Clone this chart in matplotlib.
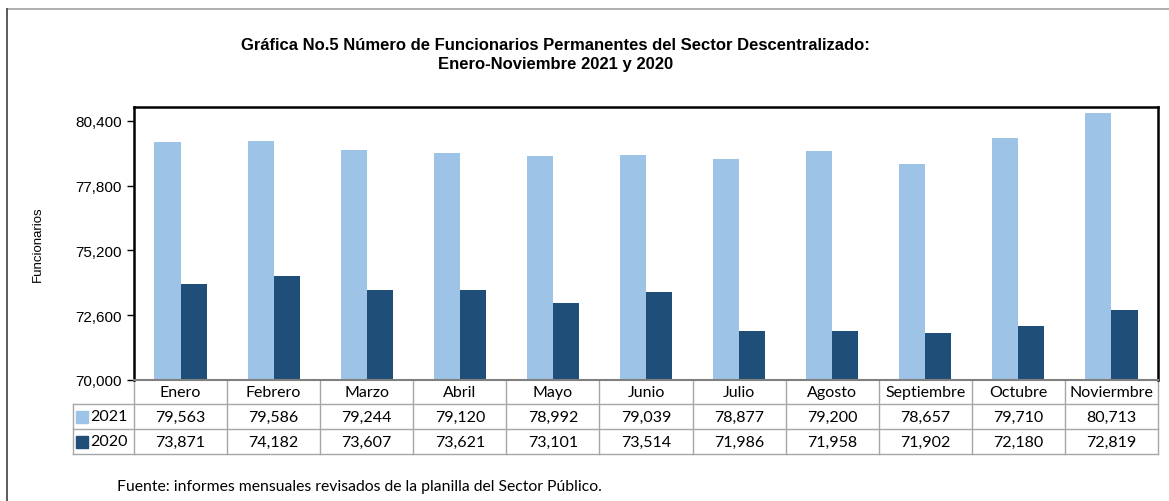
import matplotlib.pyplot as plt
import numpy as np
from matplotlib.lines import Line2D
from matplotlib.transforms import blended_transform_factory

meses = ['Enero', 'Febrero', 'Marzo', 'Abril', 'Mayo', 'Junio', 'Julio',
         'Agosto', 'Septiembre', 'Octubre', 'Noviermbre']
valores_2021 = [79563, 79586, 79244, 79120, 78992, 79039, 78877, 79200, 78657, 79710, 80713]
valores_2020 = [73871, 74182, 73607, 73621, 73101, 73514, 71986, 71958, 71902, 72180, 72819]
series = ['2021', '2020']
yticks = [70000, 72600, 75200, 77800, 80400]

colores = {'2021': '#9DC3E6', '2020': '#1F4E79'}
grid_col = '#A6A6A6'

plt.rcParams['font.family'] = ['Liberation Sans', 'DejaVu Sans']

fig = plt.figure(figsize=(11.69, 5.02), dpi=100)
ax = fig.add_axes([134 / 1169, 1 - 381 / 502, 1024 / 1169, 273 / 502])

x = np.arange(len(meses))
w = 0.28
ax.bar(x - w / 2, valores_2021, width=w, color=colores['2021'], zorder=2)
ax.bar(x + w / 2, valores_2020, width=w, color=colores['2020'], zorder=2)

ax.set_xlim(-0.5, len(meses) - 0.5)
ax.set_ylim(70000, 80960)
ax.set_yticks(yticks)
ax.set_yticklabels([f'{v:,}' for v in yticks], fontsize=11)
ax.set_xticks([])
ax.tick_params(axis='y', length=5, width=1, direction='out', pad=4)

for s in ['left', 'top', 'right']:
    ax.spines[s].set_color('black')
    ax.spines[s].set_linewidth(1.8)
ax.spines['bottom'].set_color('#808080')
ax.spines['bottom'].set_linewidth(1.5)

ax.set_ylabel('Funcionarios', fontsize=9.5, labelpad=22)

# tabla de datos debajo del grafico
tr = blended_transform_factory(ax.transData, ax.transAxes)
h = 273.0
y_rows = [0, -24 / h, -49 / h, -74 / h]
x_lab = -0.5 - 61 / 93.1
n = len(meses)

def linea(xs, ys):
    ax.add_line(Line2D(xs, ys, transform=tr, color=grid_col, lw=1.0, clip_on=False))

for yy in y_rows[1:]:
    linea([x_lab, n - 0.5], [yy, yy])
for i in range(n + 1):
    linea([i - 0.5, i - 0.5], [y_rows[0], y_rows[3]])
linea([x_lab, x_lab], [y_rows[1], y_rows[3]])

tfont = ['Lato', 'DejaVu Sans']
for i, m in enumerate(meses):
    ax.text(i, (y_rows[0] + y_rows[1]) / 2, m, transform=tr, ha='center', va='center',
            fontsize=11.5, family=tfont)
for r, (nombre, vals) in enumerate(zip(series, [valores_2021, valores_2020])):
    yc = (y_rows[r + 1] + y_rows[r + 2]) / 2
    for i, v in enumerate(vals):
        ax.text(i, yc, f'{v:,}', transform=tr, ha='center', va='center',
                fontsize=11.5, family=tfont)
    ax.plot([x_lab + 0.1], [yc], marker='s', ms=8, color=colores[nombre],
            transform=tr, clip_on=False)
    ax.text(x_lab + 0.19, yc, nombre, transform=tr, ha='left', va='center',
            fontsize=11.5, family=tfont)

fig.text(0.475, 1 - 45 / 502, 'Gráfica No.5 Número de Funcionarios Permanentes del Sector Descentralizado:',
         ha='center', va='center', fontsize=12, fontweight='bold')
fig.text(0.475, 1 - 64 / 502, 'Enero-Noviembre 2021 y 2020',
         ha='center', va='center', fontsize=12, fontweight='bold')

fig.text(117 / 1169, 1 - 487 / 502,
         'Fuente: informes mensuales revisados de la planilla del Sector Público.',
         ha='left', va='center', fontsize=11.3, family=tfont)

# marco exterior
fig.add_artist(Line2D([7 / 1169, 1], [1 - 10 / 502, 1 - 10 / 502],
                      transform=fig.transFigure, color='#A0A0A0', lw=1.2))
fig.add_artist(Line2D([7 / 1169, 7 / 1169], [0, 1 - 10 / 502],
                      transform=fig.transFigure, color='#404040', lw=1.2))

fig.savefig('out.png', dpi=100)
